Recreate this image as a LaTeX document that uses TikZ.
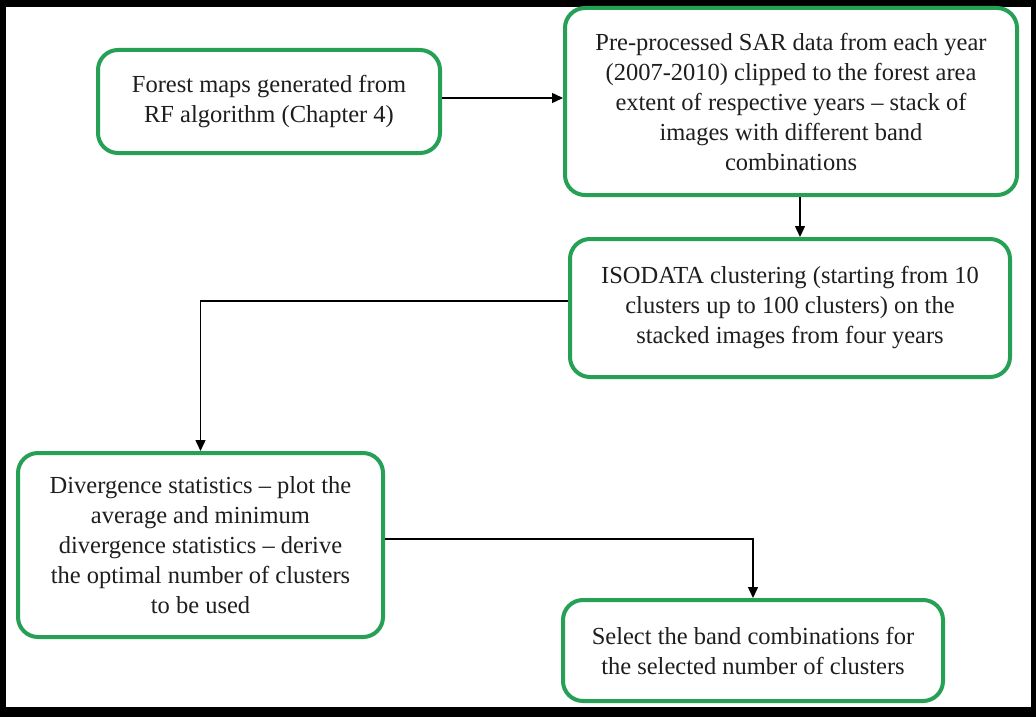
\documentclass[tikz,border=0pt]{standalone}
\usepackage{fontspec}
\setmainfont{Liberation Serif}
\usetikzlibrary{arrows.meta}
\definecolor{boxgreen}{RGB}{38,160,84}
\definecolor{txt}{RGB}{30,30,30}
\begin{document}
\begin{tikzpicture}[x=1pt,y=-1pt,
  stepbox/.style={draw=boxgreen,line width=4pt,rounded corners=20pt,fill=white,
    align=center,inner sep=0pt,text=txt,font=\fontsize{24.5}{30}\selectfont},
  arr/.style={draw=black,line width=1.5pt,-{Triangle[length=11pt,width=10pt]}}]
\useasboundingbox (0,0) rectangle (1036,717);
\fill[black] (0,0) rectangle (1036,717);
\fill[white] (6,7) rectangle (1031,707);
\node[stepbox,minimum width=342pt,minimum height=103pt] (b1) at (269,101.5)
  {Forest maps generated from\\RF algorithm (Chapter 4)};
\node[stepbox,minimum width=452pt,minimum height=187pt] (b2) at (791,101.5)
  {Pre-processed SAR data from each year\\(2007-2010) clipped to the forest area\\extent of respective years -- stack of\\images with different band\\combinations};
\node[stepbox,minimum width=440pt,minimum height=138pt] (b3) at (790,308)
  {ISODATA clustering (starting from 10\\clusters up to 100 clusters) on the\\stacked images from four years};
\node[stepbox,minimum width=365pt,minimum height=184pt] (b4) at (200.5,545)
  {Divergence statistics -- plot the\\average and minimum\\divergence statistics -- derive\\the optimal number of clusters\\to be used};
\node[stepbox,minimum width=380pt,minimum height=101pt] (b5) at (753,650.5)
  {Select the band combinations for\\the selected number of clusters};
\draw[arr] (b1.east |- 0,98) -- (b2.west |- 0,98);
\draw[arr] (b2.south -| 800,0) -- (b3.north -| 800,0);
\draw[arr] (b3.west |- 0,301) -| (b4.north);
\draw[arr] (b4.east |- 0,539) -| (b5.north);
\end{tikzpicture}
\end{document}
